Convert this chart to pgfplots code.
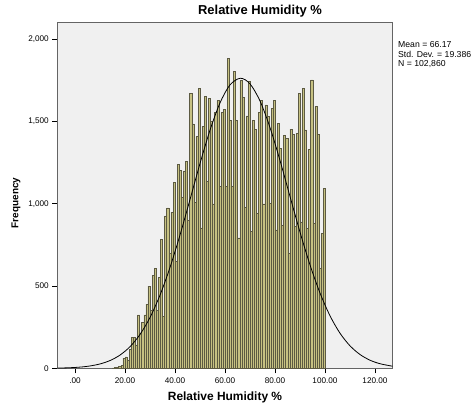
\documentclass[border=0pt]{standalone}
\usepackage{pgfplots}
\pgfplotsset{compat=1.18}
\usepackage{fontspec}
\setmainfont{Liberation Sans}
\definecolor{bggray}{RGB}{240,240,240}
\definecolor{barfill}{RGB}{198,193,130}
\definecolor{bardraw}{RGB}{92,90,66}
\definecolor{framegray}{RGB}{100,100,100}
\begin{document}
\begin{tikzpicture}[x=1bp,y=1bp]
\path[use as bounding box] (0,0) rectangle (474,410);
\begin{axis}[
  at={(57.3bp,41.7bp)}, anchor=south west,
  scale only axis, width=335.4bp, height=346bp,
  xmin=-7.1, xmax=127.1, ymin=0, ymax=2103,
  axis background/.style={fill=bggray},
  axis line style={draw=framegray, line width=0.8pt},
  xtick={0,20,40,60,80,100,120},
  xticklabels={.00,20.00,40.00,60.00,80.00,100.00,120.00},
  ytick={0,500,1000,1500,2000},
  yticklabels={0,500,{1,000},{1,500},{2,000}},
  tick align=outside, xtick pos=bottom, ytick pos=left,
  major tick length=5bp,
  tick style={draw=black, line width=0.6pt},
  tick label style={font=\fontsize{8.2}{9.5}\selectfont},
  xticklabel style={yshift=-1bp},
  clip=true,
]
\addplot[ybar, bar width=0.835, fill=barfill, draw=bardraw, line width=0.55pt] coordinates {
(15.40,3) (16.24,6) (17.07,4) (17.91,10) (18.74,16)
(19.58,62) (20.41,69) (21.25,50) (22.08,117) (22.92,190)
(23.75,190) (24.59,142) (25.42,324) (26.26,210) (27.09,277)
(27.93,324) (28.76,390) (29.60,499) (30.43,354) (31.27,566)
(32.10,607) (32.94,353) (33.77,553) (34.61,785) (35.44,314)
(36.28,926) (37.11,975) (37.95,700) (38.78,950) (39.62,1132)
(40.45,650) (41.29,1240) (42.12,1205) (42.96,1041) (43.79,1200)
(44.63,1256) (45.46,900) (46.30,1672) (47.13,1485) (47.97,1007)
(48.80,1408) (49.64,1702) (50.47,853) (51.31,1469) (52.14,1655)
(52.98,1134) (53.81,1641) (54.65,1499) (55.48,1000) (56.32,1554)
(57.15,1627) (57.99,1104) (58.82,1554) (59.66,1575) (60.49,1104)
(61.33,1885) (62.16,1505) (63.00,1104) (63.83,1803) (64.67,1505)
(65.50,792) (66.34,1748) (67.17,1647) (68.01,980) (68.84,1534)
(69.68,1742) (70.51,830) (71.35,1505) (72.18,1453) (73.02,942)
(73.85,1554) (74.69,1627) (75.52,1000) (76.36,1601) (77.19,1530)
(78.03,1003) (78.86,1580) (79.70,1627) (80.53,841) (81.37,1489)
(82.20,1335) (83.04,871) (83.87,1418) (84.71,1398) (85.54,700)
(86.38,1453) (87.21,1424) (88.05,861) (88.88,1429) (89.72,1672)
(90.55,890) (91.39,1702) (92.22,1449) (93.06,851) (93.89,1331)
(94.73,1753) (95.56,881) (96.40,1590) (97.23,1422) (98.07,608)
(98.90,821) (99.74,1094)
};
\addplot[smooth, black, line width=0.8pt] coordinates {
(-7,1.4) (-3,3.0) (0,5.2) (3,8.7) (6,14.3) (10,26.5) (14,47.2)
(18,80.5) (22,131.5) (26,205.9) (30,309.2) (34,445.0) (38,613.4)
(42,810.4) (46,1026.1) (50,1245.0) (54,1447.6) (58,1613.2)
(62,1722.6) (66.17,1763) (70,1729.0) (74,1625.0) (78,1463.5)
(82,1263.2) (86,1044.8) (90,828.1) (94,629.0) (98,458.0)
(102,319.5) (106,213.5) (110,136.8) (114,84.0) (118,49.4)
(122,27.9) (127,12.8)
};
\end{axis}
\node[font=\bfseries\fontsize{13}{15}\selectfont, anchor=center] at (260,399) {Relative Humidity \%};
\node[font=\bfseries\fontsize{12}{14}\selectfont, anchor=center] at (225,13) {Relative Humidity \%};
\node[font=\bfseries\fontsize{10}{12}\selectfont, anchor=center, rotate=90] at (16,207) {Frequency};
\node[font=\fontsize{8.7}{9.8}\selectfont, anchor=north west, align=left, inner sep=0pt] at (398,369) {Mean = 66.17\\Std. Dev. = 19.386\\N = 102,860};
\end{tikzpicture}
\end{document}
